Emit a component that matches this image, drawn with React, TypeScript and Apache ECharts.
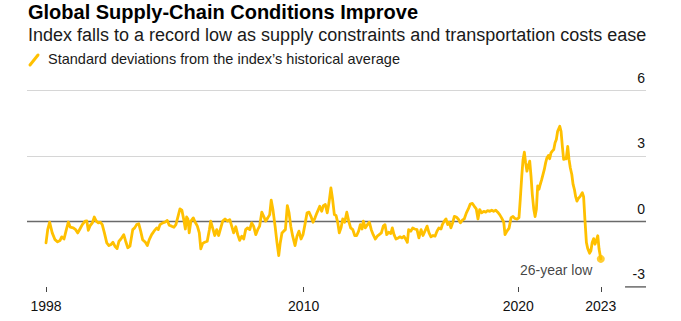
import React, { useEffect, useRef } from "react";
import * as echarts from "echarts";

const years = [
  1998.00, 1998.08, 1998.17, 1998.29, 1998.42, 1998.54, 1998.65, 1998.73, 1998.84, 1998.93,
  1999.04, 1999.13, 1999.27, 1999.38, 1999.48, 1999.58, 1999.69, 1999.82, 1999.90, 1999.97,
  2000.06, 2000.16, 2000.25, 2000.34, 2000.44, 2000.53, 2000.62, 2000.72, 2000.83, 2000.93,
  2001.03, 2001.12, 2001.21, 2001.31, 2001.40, 2001.49, 2001.62, 2001.71, 2001.81, 2001.91,
  2002.04, 2002.13, 2002.22, 2002.32, 2002.41, 2002.50, 2002.63, 2002.72, 2002.81, 2002.92,
  2003.03, 2003.16, 2003.23, 2003.31, 2003.44, 2003.54, 2003.65, 2003.74, 2003.85, 2003.96,
  2004.05, 2004.15, 2004.24, 2004.33, 2004.43, 2004.49, 2004.55, 2004.61, 2004.67, 2004.75,
  2004.86, 2004.95, 2005.05, 2005.14, 2005.21, 2005.30, 2005.39, 2005.51, 2005.61, 2005.67,
  2005.76, 2005.86, 2005.95, 2006.04, 2006.14, 2006.23, 2006.34, 2006.46, 2006.56, 2006.65,
  2006.74, 2006.84, 2006.93, 2007.02, 2007.12, 2007.21, 2007.30, 2007.39, 2007.49, 2007.58,
  2007.67, 2007.77, 2007.86, 2007.95, 2008.05, 2008.14, 2008.23, 2008.33, 2008.42, 2008.49,
  2008.57, 2008.67, 2008.76, 2008.84, 2008.91, 2008.99, 2009.07, 2009.15, 2009.24, 2009.32,
  2009.40, 2009.49, 2009.60, 2009.69, 2009.78, 2009.88, 2009.97, 2010.06, 2010.16, 2010.25,
  2010.34, 2010.44, 2010.53, 2010.62, 2010.75, 2010.84, 2010.92, 2011.01, 2011.10, 2011.18,
  2011.27, 2011.35, 2011.43, 2011.51, 2011.59, 2011.66, 2011.74, 2011.82, 2011.91, 2012.01,
  2012.10, 2012.19, 2012.29, 2012.38, 2012.47, 2012.56, 2012.64, 2012.72, 2012.78, 2012.87,
  2012.97, 2013.06, 2013.15, 2013.24, 2013.34, 2013.43, 2013.52, 2013.62, 2013.71, 2013.79,
  2013.87, 2013.96, 2014.06, 2014.13, 2014.21, 2014.30, 2014.40, 2014.49, 2014.58, 2014.67,
  2014.77, 2014.83, 2014.89, 2014.99, 2015.08, 2015.17, 2015.28, 2015.37, 2015.47, 2015.56,
  2015.65, 2015.75, 2015.84, 2015.93, 2016.03, 2016.12, 2016.21, 2016.30, 2016.40, 2016.46,
  2016.55, 2016.63, 2016.71, 2016.78, 2016.86, 2016.94, 2017.02, 2017.11, 2017.20, 2017.30,
  2017.39, 2017.48, 2017.58, 2017.67, 2017.76, 2017.86, 2017.95, 2018.04, 2018.12, 2018.20,
  2018.29, 2018.39, 2018.48, 2018.57, 2018.67, 2018.76, 2018.85, 2018.95, 2019.04, 2019.13,
  2019.22, 2019.32, 2019.38, 2019.47, 2019.57, 2019.66, 2019.75, 2019.84, 2019.94, 2020.03,
  2020.09, 2020.16, 2020.22, 2020.28, 2020.34, 2020.40, 2020.46, 2020.53, 2020.59, 2020.65,
  2020.72, 2020.78, 2020.84, 2020.90, 2020.96, 2021.02, 2021.09, 2021.15, 2021.21, 2021.27,
  2021.33, 2021.40, 2021.46, 2021.52, 2021.58, 2021.65, 2021.71, 2021.77, 2021.83, 2021.93,
  2021.99, 2022.05, 2022.11, 2022.17, 2022.23, 2022.30, 2022.36, 2022.42, 2022.49, 2022.55,
  2022.61, 2022.67, 2022.73, 2022.79, 2022.89, 2022.98, 2023.04, 2023.10, 2023.17, 2023.23,
  2023.32, 2023.38, 2023.44, 2023.51, 2023.57, 2023.63, 2023.70, 2023.76, 2023.84,
];

const values = [
  -0.98, -0.37, -0.03, -0.52, -0.83, -0.93, -0.87, -0.70, -0.80, -0.44,
  -0.02, -0.26, -0.29, -0.37, -0.52, -0.34, -0.14, 0.02, 0.03, -0.40,
  -0.18, -0.06, 0.21, 0.02, -0.06, -0.03, -0.14, -0.52, -0.98, -1.10,
  -1.05, -0.95, -1.13, -1.24, -0.90, -0.80, -0.60, -0.90, -1.20, -1.13,
  -0.37, -0.29, -0.14, -0.10, -0.44, -0.83, -0.95, -1.10, -0.83, -0.60,
  -0.44, -0.29, -0.37, -0.14, -0.06, -0.03, 0.05, -0.17, -0.21, -0.26,
  -0.14, 0.24, 0.58, 0.52, 0.02, -0.34, 0.21, 0.12, -0.52, 0.02,
  0.17, -0.03, -0.21, -0.52, -1.25, -1.00, -0.95, -0.90, -0.37, 0.02,
  -0.29, -0.64, -0.37, -0.64, -0.29, 0.02, 0.12, 0.02, 0.09, -0.21,
  -0.52, -0.24, -0.60, -0.86, -0.67, -0.80, -0.37, -0.29, -0.37, -0.06,
  -0.21, -0.60, -0.37, -0.21, 0.43, 0.24, 0.02, 0.17, 0.32, 0.98,
  0.55, -0.21, -0.98, -1.56, -0.98, -0.52, -0.44, -0.37, 0.73, 0.40,
  -0.21, -0.67, -1.10, -0.67, -0.44, -0.80, -0.60, -0.14, 0.40, 0.43,
  0.24, -0.03, 0.17, 0.40, 0.70, 0.47, 0.73, 0.78, 0.40, 0.86,
  1.54, 1.01, 0.32, 0.28, -0.06, -0.52, -0.29, 0.12, -0.03, 0.43,
  0.02, -0.29, -0.37, -0.64, -0.64, -0.44, -0.14, -0.34, 0.02, -0.29,
  -0.14, -0.03, -0.37, -0.60, -0.80, -0.67, -0.60, -0.52, -0.21, -0.14,
  -0.60, -0.49, -0.55, -0.29, -0.60, -0.80, -0.75, -0.70, -0.75, -0.67,
  -0.83, -0.95, -0.37, -0.44, -0.29, -0.34, -0.37, -0.75, -0.37, -0.64,
  -0.44, -0.21, -0.52, -0.70, -0.64, -0.67, -0.44, -0.29, -0.34, -0.14,
  0.02, 0.12, -0.14, -0.03, -0.29, -0.06, 0.24, 0.21, 0.12, -0.06,
  0.06, 0.12, 0.40, 0.58, 0.80, 0.83, 0.70, 0.58, 0.12, 0.55,
  0.40, 0.47, 0.43, 0.50, 0.47, 0.52, 0.47, 0.52, 0.43, 0.32,
  0.17, -0.03, -0.60, -0.44, -0.30, 0.18, 0.23, 0.14, 0.11, 0.18,
  1.02, 2.09, 2.85, 3.18, 2.69, 2.31, 2.54, 2.77, 2.09, 1.25,
  0.56, 0.23, 0.56, 1.63, 1.48, 1.70, 1.93, 2.16, 2.39, 2.69,
  2.92, 3.03, 2.88, 3.15, 3.23, 3.30, 3.61, 3.76, 4.14, 4.37,
  4.14, 3.45, 2.85, 2.88, 2.88, 3.45, 2.85, 2.47, 2.16, 1.70,
  1.48, 1.14, 0.94, 1.05, 1.17, 1.32, 1.14, 0.11, -0.96, -1.23,
  -1.45, -1.34, -0.96, -0.78, -1.04, -0.88, -0.65, -1.26, -1.71,
];

const xTickValues = [1998, 2010, 2020, 2023.84];
const xTickLabels = ["1998", "2010", "2020", "2023"];
const yTickValues = [-3, 0, 3, 6];
const xRange = [1997.115, 2025.946];
const shortGridStart = 2024.97;

const TITLE = "Global Supply-Chain Conditions Improve";
const SUBTITLE = "Index falls to a record low as supply constraints and transportation costs ease";
const LEGEND = "Standard deviations from the index\u2019s historical average";
const ANNOTATION = "26-year low";

const FONT = "'Liberation Sans', Arial, Helvetica, sans-serif";
const YELLOW = "#FFC000";

export default function App() {
  const ref = useRef<HTMLDivElement>(null);

  useEffect(() => {
    if (!ref.current) return;
    const chart = echarts.init(ref.current, null, { renderer: "svg" });
    const lineData = years.map((y, i) => [y, values[i]]);
    const last = lineData[lineData.length - 1];

    const option: any = {
      animation: false,
      textStyle: { fontFamily: FONT },
      grid: { left: 27, right: 35, top: 90.7, bottom: 34, containLabel: false },
      xAxis: {
        type: "value",
        min: xRange[0],
        max: xRange[1],
        axisLine: { show: false, onZero: false },
        splitLine: { show: false },
        axisTick: {
          show: true,
          customValues: xTickValues,
          length: 5,
          lineStyle: { color: "#444", width: 1 },
        },
        axisLabel: {
          customValues: xTickValues,
          margin: 12,
          color: "#111",
          fontSize: 14,
          fontFamily: FONT,
          formatter: (v: number) => {
            const idx = xTickValues.findIndex((t) => Math.abs(t - v) < 0.01);
            return idx >= 0 ? xTickLabels[idx] : "";
          },
        },
      },
      yAxis: {
        type: "value",
        position: "right",
        min: -3,
        max: 6,
        interval: 3,
        axisLine: { show: false },
        axisTick: { show: false },
        splitLine: {
          show: true,
          lineStyle: { color: ["rgba(0,0,0,0)", "rgba(0,0,0,0)", "#d6d6d6", "#d6d6d6"], width: 1 },
        },
        axisLabel: {
          inside: true,
          margin: 1,
          color: "#111",
          fontSize: 14,
          fontFamily: FONT,
          verticalAlign: "bottom",
          padding: [0, 0, 6, 0],
          formatter: (v: number) => (yTickValues.includes(v) ? String(v) : ""),
        },
      },
      series: [
        {
          type: "line",
          z: 1,
          silent: true,
          symbol: "none",
          data: [[xRange[0], 0], [xRange[1], 0]],
          lineStyle: { color: "#6a6a6a", width: 1.5 },
        },
        {
          type: "line",
          z: 1,
          silent: true,
          symbol: "none",
          data: [[shortGridStart, -3], [xRange[1], -3]],
          lineStyle: { color: "#555", width: 1.5 },
        },
        {
          type: "line",
          z: 3,
          data: lineData,
          showSymbol: false,
          symbol: "none",
          lineStyle: { color: YELLOW, width: 2.8, join: "round", cap: "round" },
        },
        {
          type: "scatter",
          z: 4,
          data: [last],
          symbol: "circle",
          symbolSize: 8,
          itemStyle: { color: YELLOW },
          label: {
            show: true,
            position: "left",
            distance: 4.5,
            offset: [0, 11],
            formatter: ANNOTATION,
            color: "#111",
            fontSize: 14,
            fontFamily: FONT,
          },
        },
      ],
      graphic: [
        {
          type: "text",
          left: 28,
          top: 2,
          style: { text: TITLE, font: `bold 20px ${FONT}`, fill: "#000" },
        },
        {
          type: "text",
          left: 28,
          top: 26,
          style: { text: SUBTITLE, font: `18px ${FONT}`, fill: "#1a1a1a" },
        },
        {
          type: "line",
          shape: { x1: 30, y1: 65, x2: 38, y2: 55 },
          style: { stroke: YELLOW, lineWidth: 3, lineCap: "round" },
        },
        {
          type: "text",
          left: 48,
          top: 51,
          style: { text: LEGEND, font: `14.5px ${FONT}`, fill: "#1a1a1a" },
        },
      ],
    };
    chart.setOption(option);
    return () => chart.dispose();
  }, []);

  return <div ref={ref} style={{ width: 681, height: 321, position: "absolute", left: 0, top: 0 }} />;
}
